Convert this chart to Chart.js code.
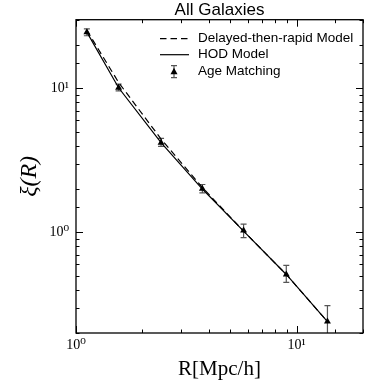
<!doctype html>
<html>
<head>
<meta charset="utf-8">
<title>All Galaxies</title>
<script src="https://cdn.jsdelivr.net/npm/chart.js"></script>
<style>
  html, body { margin: 0; padding: 0; background: #fff; }
  canvas { display: block; }
</style>
</head>
<body>
<canvas id="chart" width="382" height="382"></canvas>
<script>
// values
const radius = [1.12, 1.56, 2.43, 3.74, 5.75, 8.98, 13.8];
const ageMatching = [24.5, 10.1, 4.2, 2.01, 1.03, 0.51, 0.24];
const ageErrHigh = [25.9, 10.7, 4.5, 2.15, 1.14, 0.59, 0.31];
const ageErrLow = [23.2, 9.6, 3.95, 1.88, 0.92, 0.45, 0.17];
const hodModel = [24.6, 10.1, 4.2, 2.0, 1.02, 0.51, 0.24];
const delayedModel = [25.3, 11.0, 4.45, 2.05, 1.02, 0.51, 0.24];
const xTickLabels = {1: '10⁰', 10: '10¹'};
const yTickLabels = {1: '10⁰', 10: '10¹'};

const serif = '"Liberation Serif", "DejaVu Serif", serif';
const sans = '"Liberation Sans", Arial, sans-serif';

const pts = ys => radius.map((r, i) => ({x: r, y: ys[i]}));
const isMajor = v => Math.abs(Math.log10(v) - Math.round(Math.log10(v))) < 1e-6;

const errorBars = {
    id: 'errorBars',
    beforeDatasetsDraw(chart) {
        const {ctx, chartArea: a, scales: {x, y}} = chart;
        ctx.save();
        ctx.beginPath();
        ctx.rect(a.left, a.top, a.width, a.height);
        ctx.clip();
        ctx.strokeStyle = '#555';
        ctx.lineWidth = 1.2;
        radius.forEach((r, i) => {
            const px = x.getPixelForValue(r);
            const hi = y.getPixelForValue(ageErrHigh[i]);
            const lo = y.getPixelForValue(ageErrLow[i]);
            ctx.beginPath();
            ctx.moveTo(px, hi); ctx.lineTo(px, lo);
            ctx.moveTo(px - 3, hi); ctx.lineTo(px + 3, hi);
            ctx.moveTo(px - 3, lo); ctx.lineTo(px + 3, lo);
            ctx.stroke();
        });
        ctx.restore();
    }
};

const frame = {
    id: 'frame',
    afterDraw(chart) {
        const {ctx, chartArea: a, scales: {x, y}} = chart;
        ctx.save();
        ctx.strokeStyle = '#000';
        ctx.lineWidth = 1;
        ctx.beginPath();
        x.ticks.forEach(t => {
            const px = Math.round(x.getPixelForValue(t.value)) + 0.5;
            const len = isMajor(t.value) ? 7 : 3.5;
            ctx.moveTo(px, a.bottom); ctx.lineTo(px, a.bottom - len);
            ctx.moveTo(px, a.top); ctx.lineTo(px, a.top + len);
        });
        y.ticks.forEach(t => {
            const py = Math.round(y.getPixelForValue(t.value)) + 0.5;
            const len = isMajor(t.value) ? 7 : 3.5;
            ctx.moveTo(a.left, py); ctx.lineTo(a.left + len, py);
            ctx.moveTo(a.right, py); ctx.lineTo(a.right - len, py);
        });
        ctx.stroke();
        ctx.lineWidth = 1.3;
        ctx.strokeRect(a.left, a.top, a.width, a.height);

        // legend in the upper right corner
        const lx = a.right - 203, tx = a.right - 165;
        const rows = [a.top + 19, a.top + 35, a.top + 52];
        ctx.font = '13.5px ' + sans;
        ctx.fillStyle = '#000';
        ctx.textBaseline = 'middle';
        chart.data.datasets.forEach((ds, i) => {
            const ry = rows[i];
            ctx.fillText(ds.label, tx, ry);
            ctx.beginPath();
            if (ds.showLine === false) {
                const cx = lx + 14;
                ctx.strokeStyle = '#555';
                ctx.lineWidth = 1.2;
                ctx.setLineDash([]);
                ctx.moveTo(cx, ry - 6); ctx.lineTo(cx, ry + 6);
                ctx.moveTo(cx - 3, ry - 6); ctx.lineTo(cx + 3, ry - 6);
                ctx.moveTo(cx - 3, ry + 6); ctx.lineTo(cx + 3, ry + 6);
                ctx.stroke();
                ctx.beginPath();
                ctx.moveTo(cx, ry - 4);
                ctx.lineTo(cx + 3.5, ry + 2.5);
                ctx.lineTo(cx - 3.5, ry + 2.5);
                ctx.closePath();
                ctx.fill();
            } else {
                ctx.strokeStyle = '#000';
                ctx.lineWidth = 1.2;
                ctx.setLineDash(ds.borderDash || []);
                ctx.moveTo(lx, ry); ctx.lineTo(lx + 29, ry);
                ctx.stroke();
                ctx.setLineDash([]);
            }
        });
        ctx.restore();
    }
};

new Chart(document.getElementById('chart'), {
    type: 'line',
    data: {
        datasets: [{
            label: 'Delayed-then-rapid Model',
            data: pts(delayedModel),
            borderColor: '#000',
            borderWidth: 1.2,
            borderDash: [6.5, 4],
            pointRadius: 0,
            fill: false
        }, {
            label: 'HOD Model',
            data: pts(hodModel),
            borderColor: '#000',
            borderWidth: 1.2,
            pointRadius: 0,
            fill: false
        }, {
            label: 'Age Matching',
            data: pts(ageMatching),
            showLine: false,
            pointStyle: 'triangle',
            pointRadius: 4,
            backgroundColor: '#000',
            borderColor: '#000',
            borderWidth: 0
        }]
    },
    options: {
        responsive: false,
        animation: false,
        layout: {padding: {left: 0, right: 19, top: 0, bottom: 0}},
        plugins: {
            legend: {display: false},
            tooltip: {enabled: false},
            title: {
                display: true,
                text: 'All Galaxies',
                fullSize: false,
                color: '#000',
                font: {family: sans, size: 17, weight: 'normal', lineHeight: 1.1},
                padding: {top: 1, bottom: 0}
            }
        },
        scales: {
            x: {
                type: 'logarithmic',
                min: 1,
                max: 20,
                grid: {display: false, drawTicks: false},
                border: {display: false},
                afterFit: s => { s.height = 49; },
                ticks: {
                    autoSkip: false,
                    maxRotation: 0,
                    padding: 4,
                    color: '#000',
                    font: {family: serif, size: 14},
                    callback: v => xTickLabels[+(+v).toPrecision(6)] || ''
                },
                title: {
                    display: true,
                    text: 'R[Mpc/h]',
                    color: '#000',
                    font: {family: serif, size: 21},
                    padding: {top: 0, bottom: 0}
                }
            },
            y: {
                type: 'logarithmic',
                min: 0.2,
                max: 30,
                grid: {display: false, drawTicks: false},
                border: {display: false},
                afterFit: s => { s.width = 76; },
                ticks: {
                    autoSkip: false,
                    padding: 7,
                    color: '#000',
                    font: {family: serif, size: 14},
                    callback: v => yTickLabels[+(+v).toPrecision(6)] || ''
                },
                title: {
                    display: true,
                    text: 'ξ(R)',
                    color: '#000',
                    font: {family: serif, size: 24, style: 'italic'},
                    padding: {top: 15, bottom: 0}
                }
            }
        }
    },
    plugins: [errorBars, frame]
});
</script>
</body>
</html>
